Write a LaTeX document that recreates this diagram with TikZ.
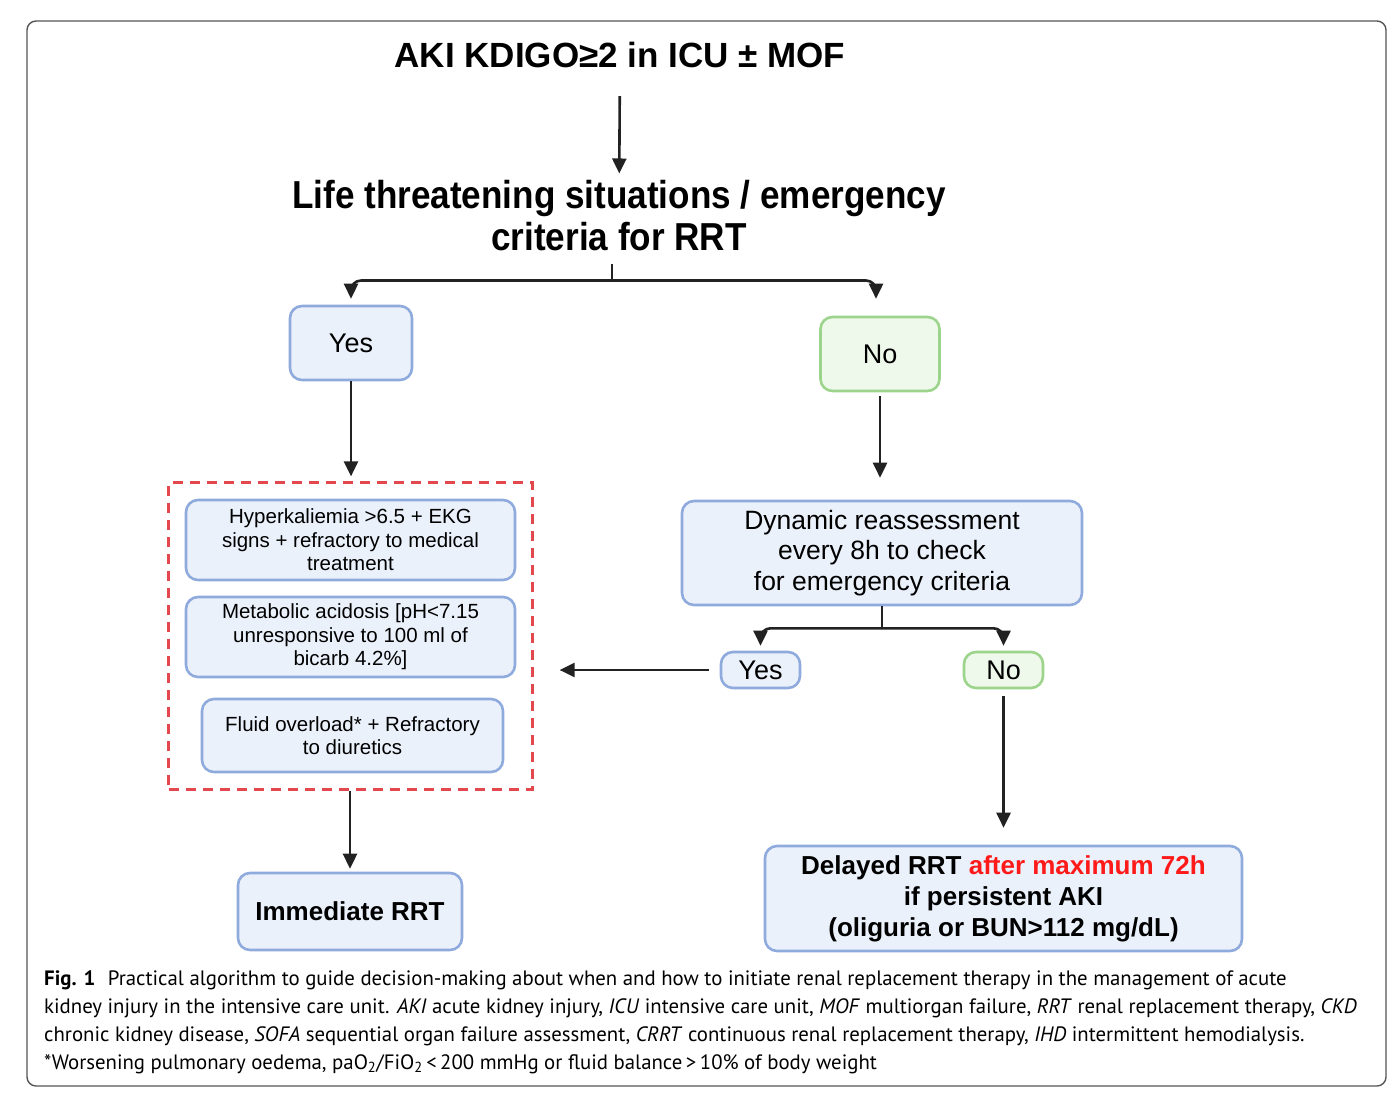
\documentclass[tikz,border=0pt]{standalone}
\usepackage{fontspec}
\setmainfont{Liberation Sans}
\newfontfamily\condfont[FakeStretch=0.9]{Liberation Sans}
\newfontfamily\capfont{PT Sans}
\usetikzlibrary{arrows.meta,fit}

\definecolor{boxblue}{HTML}{EBF1FB}
\definecolor{lineblue}{HTML}{8FAADC}
\definecolor{boxgreen}{HTML}{EEF9EB}
\definecolor{linegreen}{HTML}{9DD48C}
\definecolor{critred}{HTML}{E2484D}
\definecolor{inkdark}{HTML}{222222}
\definecolor{latered}{HTML}{FF1A1A}
\definecolor{framegray}{HTML}{555555}

\tikzset{
  bluebox/.style={draw=lineblue, fill=boxblue, line width=2.6pt, rounded corners=12pt,
    align=center, inner sep=0pt, text=black},
  greenbox/.style={bluebox, draw=linegreen, fill=boxgreen},
  critbox/.style={draw=critred, line width=2.6pt, dash pattern=on 10pt off 7pt, inner sep=16pt},
  arr/.style={-{Triangle[length=15pt,width=14pt]}, draw=inkdark, line width=2.6pt},
}

\begin{document}
\begin{tikzpicture}[x=1pt,y=-1pt]
  \useasboundingbox (0,0) rectangle (1396,1100);

  % Frame
  \draw[framegray, line width=1.4pt, rounded corners=9pt] (27,21) rectangle (1386,1086);

  % Headings
  \node[inner sep=0pt, font=\bfseries\fontsize{35}{40}\selectfont] (akititle) at (620,55)
    {AKI KDIGO≥2 in ICU ± MOF};
  \node[inner sep=0pt, align=center, font=\condfont\bfseries\fontsize{39}{42}\selectfont] (life) at (619,216)
    {Life threatening situations / emergency\\criteria for RRT};

  % First decision
  \node[bluebox, minimum width=122pt, minimum height=74pt, font=\fontsize{27}{30}\selectfont] (yes) at (351,343) {Yes};
  \node[greenbox, minimum width=119pt, minimum height=74pt, font=\fontsize{27}{30}\selectfont] (no) at (880,354) {No};

  % Emergency criteria
  \node[bluebox, minimum width=329pt, minimum height=80pt, font=\fontsize{20.5}{23.5}\selectfont] (hyper) at (350.5,540)
    {Hyperkaliemia >6.5 + EKG\\signs + refractory to medical\\treatment};
  \node[bluebox, minimum width=329pt, minimum height=80pt, font=\fontsize{20.5}{23.5}\selectfont] (acid) at (350.5,637)
    {Metabolic acidosis [pH<7.15\\unresponsive to 100 ml of\\bicarb 4.2\%]};
  \node[bluebox, minimum width=301pt, minimum height=73pt, font=\fontsize{20.5}{23.5}\selectfont] (fluid) at (352.5,735.5)
    {Fluid overload* + Refractory\\to diuretics};
  \node[critbox, fit=(hyper)(acid)(fluid)] (crit) {};

  % Reassessment
  \node[bluebox, minimum width=400pt, minimum height=104pt, font=\fontsize{26.5}{30.5}\selectfont] (dyn) at (882,553)
    {Dynamic reassessment\\every 8h to check\\for emergency criteria};
  \node[bluebox, minimum width=79pt, minimum height=36pt, font=\fontsize{27}{30}\selectfont] (yesagain) at (760.5,670) {Yes};
  \node[greenbox, minimum width=79pt, minimum height=36pt, font=\fontsize{27}{30}\selectfont] (noagain) at (1003.5,670) {No};

  % Outcomes
  \node[bluebox, minimum width=224pt, minimum height=77pt, font=\bfseries\fontsize{26}{30}\selectfont] (immed) at (350,911.5)
    {Immediate RRT};
  \node[bluebox, minimum width=477pt, minimum height=105pt, font=\bfseries\fontsize{26}{31}\selectfont] (delayed) at (1003.5,898.5)
    {Delayed RRT \textcolor{latered}{after maximum 72h}\\if persistent AKI\\(oliguria or BUN>112 mg/dL)};

  % Arrows
  \draw[arr, shorten <=28pt, shorten >=7pt] (akititle) -- (life);
  \coordinate (lifefork) at ([xshift=-7pt,yshift=-12pt]life.south);
  \coordinate (lifesplit) at ([yshift=-17pt]lifefork);
  \draw[draw=inkdark, line width=2.6pt] (lifefork) -- (lifesplit);
  \draw[arr, rounded corners=10pt, shorten >=6pt] (lifesplit) -| (yes.north);
  \draw[arr, rounded corners=10pt, shorten >=17pt] (lifesplit) -| ([xshift=-4pt]no.north);
  \draw[arr, shorten >=5pt] (yes.south) -- (yes.south |- crit.north);
  \draw[arr, shorten <=4pt, shorten >=22pt] (no.south) -- (no.south |- dyn.north);
  \coordinate (dynsplit) at ([yshift=-22pt]dyn.south);
  \draw[draw=inkdark, line width=2.6pt] (dyn.south) -- (dynsplit);
  \draw[arr, rounded corners=10pt, shorten >=5pt] (dynsplit) -| (yesagain.north);
  \draw[arr, rounded corners=10pt, shorten >=5pt] (dynsplit) -| (noagain.north);
  \draw[arr, shorten <=11pt, shorten >=26pt] (yesagain.west) -- (crit.east |- yesagain.west);
  \draw[arr, shorten <=7pt, shorten >=17pt] (noagain.south) -- (delayed.north -| noagain.south);
  \draw[arr, shorten >=3pt] (crit.south -| immed.north) -- (immed.north);

  % Caption
  \node[anchor=north west, align=left, inner sep=0pt, text=black,
        font=\capfont\fontsize{20.8}{28}\selectfont] (caption) at (44,970)
    {\textbf{Fig. 1}\hspace{0.6em}Practical algorithm to guide decision-making about when and how to initiate renal replacement therapy in the management of acute\\
     kidney injury in the intensive care unit. \textit{AKI} acute kidney injury, \textit{ICU} intensive care unit, \textit{MOF} multiorgan failure, \textit{RRT} renal replacement therapy, \textit{CKD}\\
     chronic kidney disease, \textit{SOFA} sequential organ failure assessment, \textit{CRRT} continuous renal replacement therapy, \textit{IHD} intermittent hemodialysis.\\
     *Worsening pulmonary oedema, paO\textsubscript{2}/FiO\textsubscript{2}\,<\,200 mmHg or fluid balance\,>\,10\% of body weight};
\end{tikzpicture}
\end{document}
